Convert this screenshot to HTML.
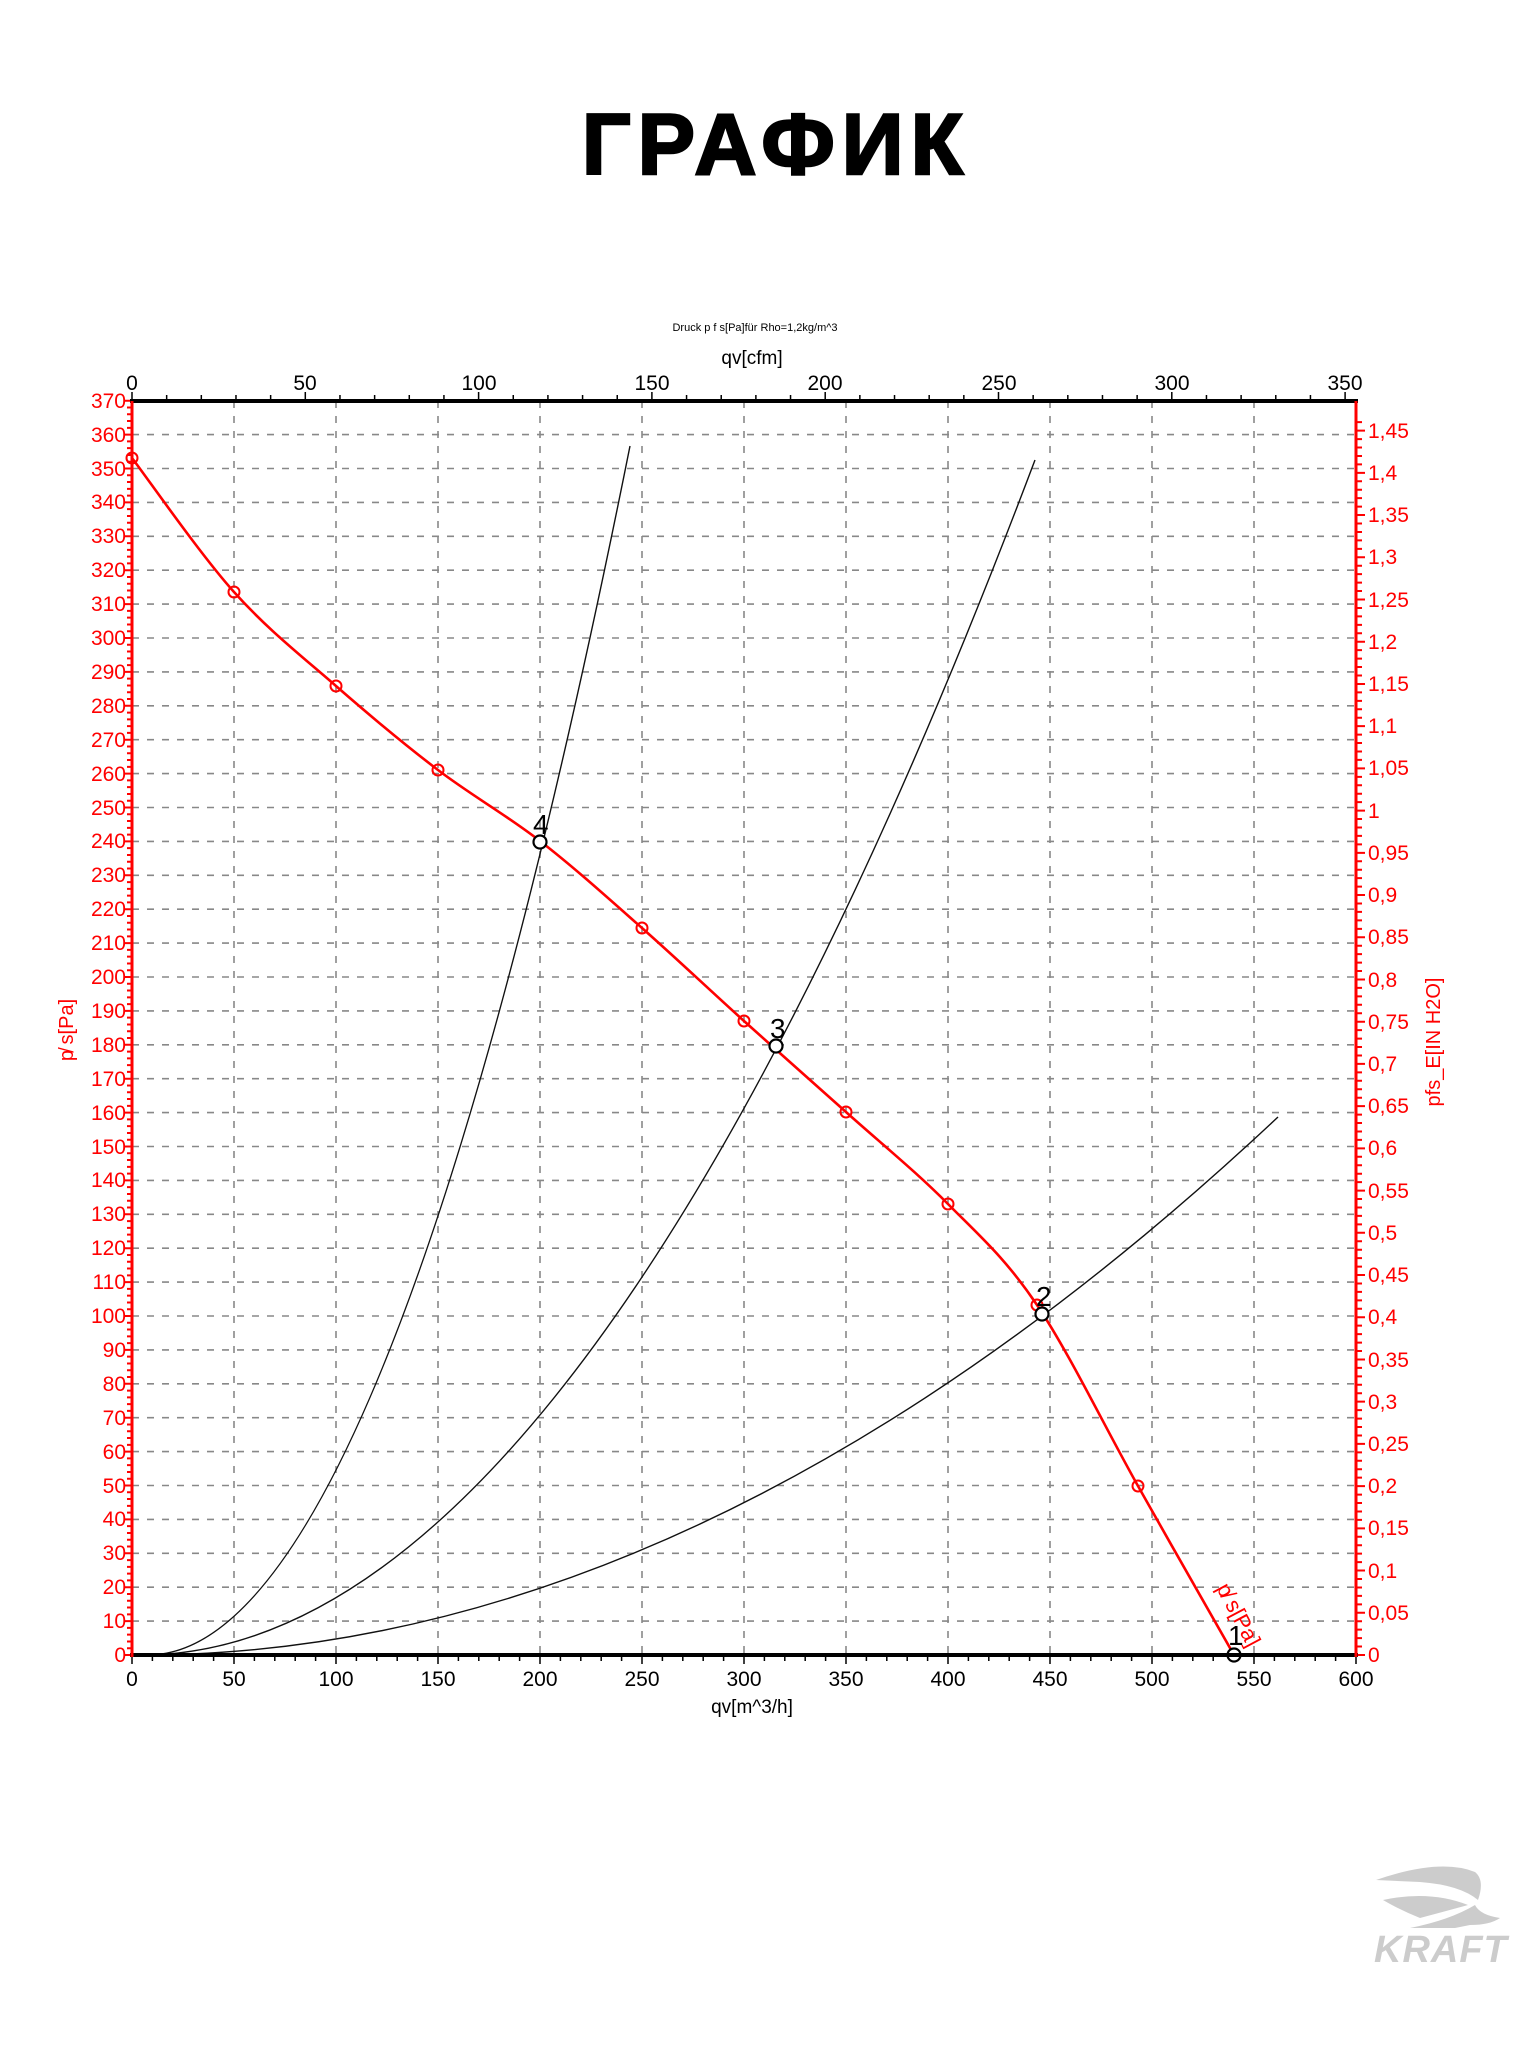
<!DOCTYPE html>
<html><head><meta charset="utf-8"><style>
html,body{margin:0;padding:0;background:#fff;}
svg{display:block;}
text{font-family:"Liberation Sans",sans-serif;}
</style></head><body>
<svg id="s" width="1536" height="2048" viewBox="0 0 1536 2048" xmlns="http://www.w3.org/2000/svg">
<text x="776" y="174" text-anchor="middle" font-size="86" font-weight="bold" letter-spacing="7" fill="#000" stroke="#000" stroke-width="2.5" style="font-family:'Liberation Sans','DejaVu Sans',sans-serif">ГРАФИК</text>
<text x="755" y="331" text-anchor="middle" font-size="11" fill="#000">Druck p f s[Pa]für Rho=1,2kg/m^3</text>
<text x="752" y="364" text-anchor="middle" font-size="19" fill="#000">qv[cfm]</text>
<text x="752" y="1713" text-anchor="middle" font-size="19" fill="#000">qv[m^3/h]</text>
<g id="grid" stroke="#888" stroke-width="1.6" stroke-dasharray="7,8" fill="none"></g>
<g id="ticks"></g>
<g fill="none" stroke="#111" stroke-width="1.4">
<path d="M148,1655 Q388,1655 630,446"/>
<path d="M142,1655 Q584,1655 1035,460"/>
<path d="M142,1655 Q705,1655 1278,1117"/>
</g>
<path id="red" fill="none" stroke="#f00" stroke-width="2.6" stroke-linejoin="round" d="M132,458 L1234,1655"/>
<g fill="none" stroke="#f00" stroke-width="2">
<circle cx="132" cy="458" r="5.5"/><circle cx="234" cy="592" r="5.5"/><circle cx="336" cy="686" r="5.5"/><circle cx="438" cy="770" r="5.5"/><circle cx="642" cy="928" r="5.5"/><circle cx="744" cy="1021" r="5.5"/><circle cx="846" cy="1112" r="5.5"/><circle cx="948" cy="1204" r="5.5"/><circle cx="1037" cy="1305" r="5.5"/><circle cx="1138" cy="1486" r="5.5"/>
</g>
<g fill="#fff" stroke="#000" stroke-width="2.2">
<circle cx="540" cy="842" r="6.5"/><circle cx="776" cy="1046" r="6.5"/><circle cx="1042" cy="1314" r="6.5"/><circle cx="1234" cy="1655" r="6.5"/>
</g>
<g font-size="28" fill="#000">
<text x="533" y="834">4</text><text x="770" y="1038">3</text><text x="1036" y="1306">2</text><text x="1228" y="1645">1</text>
</g>
<text transform="translate(1216,1588) rotate(62)" font-size="22" fill="#f00">p̸ s[Pa]</text>
<line x1="130" y1="401" x2="1358" y2="401" stroke="#000" stroke-width="4"/>
<line x1="130" y1="1655" x2="1358" y2="1655" stroke="#000" stroke-width="4"/>
<line x1="132" y1="401" x2="132" y2="1657" stroke="#f00" stroke-width="3"/>
<line x1="1356" y1="401" x2="1356" y2="1657" stroke="#f00" stroke-width="3"/>
<g font-size="21" fill="#000" text-anchor="middle">
<text x="132" y="1686">0</text><text x="234" y="1686">50</text><text x="336" y="1686">100</text><text x="438" y="1686">150</text><text x="540" y="1686">200</text><text x="642" y="1686">250</text><text x="744" y="1686">300</text><text x="846" y="1686">350</text><text x="948" y="1686">400</text><text x="1050" y="1686">450</text><text x="1152" y="1686">500</text><text x="1254" y="1686">550</text><text x="1356" y="1686">600</text>
<text x="132" y="390">0</text><text x="305" y="390">50</text><text x="479" y="390">100</text><text x="652" y="390">150</text><text x="825" y="390">200</text><text x="999" y="390">250</text><text x="1172" y="390">300</text><text x="1345" y="390">350</text>
</g>
<g font-size="21" fill="#f00" text-anchor="end">
<text x="126" y="1662">0</text><text x="126" y="1628">10</text><text x="126" y="1594">20</text><text x="126" y="1560">30</text><text x="126" y="1526">40</text><text x="126" y="1493">50</text><text x="126" y="1459">60</text><text x="126" y="1425">70</text><text x="126" y="1391">80</text><text x="126" y="1357">90</text><text x="126" y="1323">100</text><text x="126" y="1289">110</text><text x="126" y="1255">120</text><text x="126" y="1221">130</text><text x="126" y="1187">140</text><text x="126" y="1154">150</text><text x="126" y="1120">160</text><text x="126" y="1086">170</text><text x="126" y="1052">180</text><text x="126" y="1018">190</text><text x="126" y="984">200</text><text x="126" y="950">210</text><text x="126" y="916">220</text><text x="126" y="882">230</text><text x="126" y="848">240</text><text x="126" y="815">250</text><text x="126" y="781">260</text><text x="126" y="747">270</text><text x="126" y="713">280</text><text x="126" y="679">290</text><text x="126" y="645">300</text><text x="126" y="611">310</text><text x="126" y="577">320</text><text x="126" y="543">330</text><text x="126" y="509">340</text><text x="126" y="476">350</text><text x="126" y="442">360</text><text x="126" y="408">370</text>
</g>
<g font-size="21" fill="#f00">
<text x="1368" y="1662">0</text><text x="1368" y="1620">0,05</text><text x="1368" y="1578">0,1</text><text x="1368" y="1535">0,15</text><text x="1368" y="1493">0,2</text><text x="1368" y="1451">0,25</text><text x="1368" y="1409">0,3</text><text x="1368" y="1367">0,35</text><text x="1368" y="1324">0,4</text><text x="1368" y="1282">0,45</text><text x="1368" y="1240">0,5</text><text x="1368" y="1198">0,55</text><text x="1368" y="1155">0,6</text><text x="1368" y="1113">0,65</text><text x="1368" y="1071">0,7</text><text x="1368" y="1029">0,75</text><text x="1368" y="987">0,8</text><text x="1368" y="944">0,85</text><text x="1368" y="902">0,9</text><text x="1368" y="860">0,95</text><text x="1368" y="818">1</text><text x="1368" y="775">1,05</text><text x="1368" y="733">1,1</text><text x="1368" y="691">1,15</text><text x="1368" y="649">1,2</text><text x="1368" y="607">1,25</text><text x="1368" y="564">1,3</text><text x="1368" y="522">1,35</text><text x="1368" y="480">1,4</text><text x="1368" y="438">1,45</text>
</g>
<text transform="translate(73,1030) rotate(-90)" text-anchor="middle" font-size="20" fill="#f00">p̸ s[Pa]</text>
<text transform="translate(1440,1042) rotate(-90)" text-anchor="middle" font-size="20" fill="#f00">pfs_E[IN H2O]</text>
<g fill="#ccc">
<path d="M1376,1880 Q1440,1858 1475,1872 Q1485,1880 1478,1900 Q1460,1885 1420,1882 Z"/>
<path d="M1383,1900 Q1430,1890 1468,1905 Q1450,1910 1420,1918 Q1400,1910 1383,1900 Z"/>
<path d="M1410,1928 Q1450,1920 1475,1905 Q1480,1915 1500,1918 Q1490,1925 1470,1925 L1455,1928 Z"/>
<text x="1374" y="1962" font-size="38" font-weight="bold" font-style="italic" letter-spacing="1">KRAFT</text>
</g>
</svg>
<script>
(function(){
var ns="http://www.w3.org/2000/svg",g=document.getElementById('grid'),t=document.getElementById('ticks'),d="",td="",rd="";
for(var k=1;k<=36;k++){var y=1655-k*33.9;d+="M132,"+y+"H1356";}
for(var k=1;k<=11;k++){var x=132+k*102;d+="M"+x+",401V1655";}
var p=document.createElementNS(ns,'path');p.setAttribute('d',d);g.appendChild(p);
for(var k=0;k<=60;k++){var x=132+k*20.4;td+="M"+x+",1655v"+(k%5==0?9:6);}
for(var k=0;k<=35;k++){var x=132+k*34.66;td+="M"+x+",401v"+(k%5==0?-9:-6);}
for(var k=0;k<=185;k++){var y=1655-k*6.78;rd+="M132,"+y+"h"+(k%5==0?-8:-5);}
for(var k=0;k<=146;k++){var y=1655-k*8.444;if(y<401)break;rd+="M1356,"+y+"h"+(k%5==0?9:6);}
var a=document.createElementNS(ns,'path');a.setAttribute('d',td);a.setAttribute('stroke','#000');a.setAttribute('stroke-width','1.5');t.appendChild(a);
var b=document.createElementNS(ns,'path');b.setAttribute('d',rd);b.setAttribute('stroke','#f00');b.setAttribute('stroke-width','2');t.appendChild(b);
var P=[[132,458],[234,592],[336,686],[438,770],[540,841],[642,928],[744,1021],[846,1112],[948,1204],[1037,1305],[1138,1486],[1234,1655]];
var s="M"+P[0][0]+","+P[0][1];
for(var i=0;i<P.length-1;i++){var p0=P[i-1]||P[i],p1=P[i],p2=P[i+1],p3=P[i+2]||P[i+1];
s+="C"+(p1[0]+(p2[0]-p0[0])/6)+","+(p1[1]+(p2[1]-p0[1])/6)+" "+(p2[0]-(p3[0]-p1[0])/6)+","+(p2[1]-(p3[1]-p1[1])/6)+" "+p2[0]+","+p2[1];}
document.getElementById('red').setAttribute('d',s);
})();
</script>
</body></html>
